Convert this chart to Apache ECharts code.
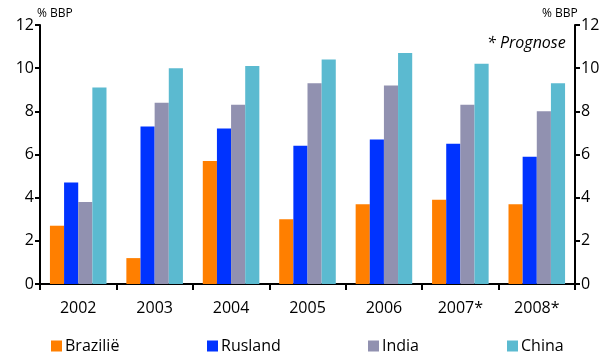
<!DOCTYPE html>
<html>
<head>
<meta charset="utf-8">
<script src="https://cdn.jsdelivr.net/npm/echarts@6/dist/echarts.min.js"></script>
<style>
  html, body { margin: 0; padding: 0; background: #fff; }
  #chart { width: 606px; height: 353px; }
</style>
</head>
<body>
<div id="chart"></div>
<script>
var years = ["2002", "2003", "2004", "2005", "2006", "2007*", "2008*"];
var brazilie = [2.7, 1.2, 5.7, 3.0, 3.7, 3.9, 3.7];
var rusland = [4.7, 7.3, 7.2, 6.4, 6.7, 6.5, 5.9];
var india = [3.8, 8.4, 8.3, 9.3, 9.2, 8.3, 8.0];
var china = [9.1, 10.0, 10.1, 10.4, 10.7, 10.2, 9.3];
var yTicks = [0, 2, 4, 6, 8, 10, 12];

var font = "'Open Sans', 'Noto Sans', sans-serif";
var colors = ["#ff7f00", "#0033ff", "#9191b0", "#5bbad0"];
var names = ["Brazilië", "Rusland", "India", "China"];
var values = [brazilie, rusland, india, china];

var chart = echarts.init(document.getElementById("chart"));

function yAxis(pos) {
	return {
		type: "value",
		position: pos,
		min: yTicks[0],
		max: yTicks[yTicks.length - 1],
		interval: 2,
		splitLine: { show: false },
		axisLine: { show: true, lineStyle: { color: "#000", width: 2 } },
		axisTick: { show: true, length: 5, lineStyle: { color: "#000", width: 2 } },
		axisLabel: { color: "#000", fontSize: 16, fontFamily: font, margin: 6 }
	};
}

var legends = [51, 207, 368, 507].map(function (x, i) {
	return {
		data: [names[i]],
		left: x,
		top: 338,
		icon: "rect",
		itemWidth: 11,
		itemHeight: 11,
		itemGap: 0,
		padding: 0,
		textStyle: { color: "#000", fontSize: 16, fontFamily: font, padding: [0, 0, 0, -2] },
		selectedMode: false
	};
});

var series = names.map(function (n, i) {
	return {
		name: n,
		type: "bar",
		data: values[i],
		barGap: "0%",
		barCategoryGap: "26%",
		itemStyle: { color: colors[i] },
		yAxisIndex: 0
	};
});

chart.setOption({
	animation: false,
	color: colors,
	grid: { left: 40, right: 31, top: 25, bottom: 69, containLabel: false },
	legend: legends,
	xAxis: {
		type: "category",
		data: years,
		axisLine: { show: true, lineStyle: { color: "#000", width: 2 } },
		axisTick: { show: true, length: 6, alignWithLabel: false, lineStyle: { color: "#000", width: 2 } },
		axisLabel: { color: "#000", fontSize: 16, fontFamily: font, margin: 16 }
	},
	yAxis: [yAxis("left"), yAxis("right")],
	graphic: [
		{ type: "text", left: 37, top: 8, style: { text: "% BBP", fontSize: 12, fontFamily: font, fill: "#000" } },
		{ type: "text", left: 542, top: 8, style: { text: "% BBP", fontSize: 12, fontFamily: font, fill: "#000" } },
		{ type: "text", left: 487, top: 35, style: { text: "* Prognose", fontSize: 16, fontStyle: "italic", fontFamily: font, fill: "#000" } }
	],
	series: series
});
</script>
</body>
</html>
